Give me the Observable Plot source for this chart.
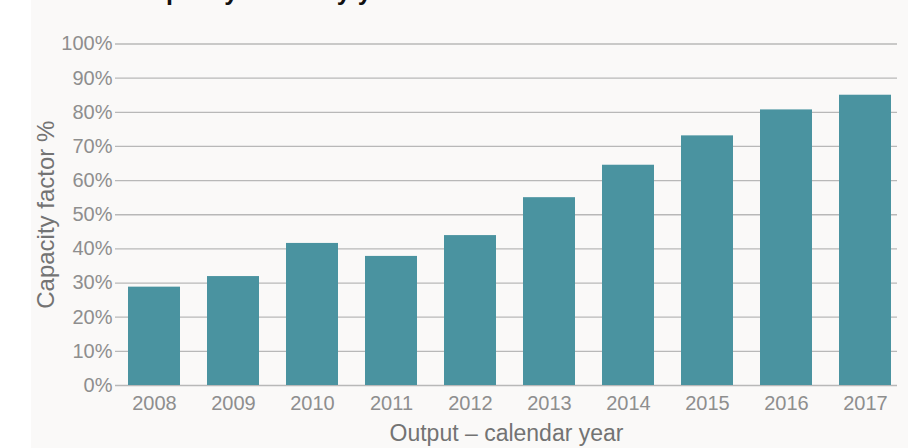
<!DOCTYPE html>
<html><head><meta charset="utf-8">
<script src="https://cdn.jsdelivr.net/npm/d3@7"></script>
<script src="https://cdn.jsdelivr.net/npm/@observablehq/plot@0.6"></script>
<style>
html,body{margin:0;padding:0;background:#fff;}
#wrap{position:relative;margin-left:31px;width:877px;height:448px;background:#faf9f8;overflow:hidden;}
#title{position:absolute;left:103px;top:-21px;font:bold 25px/24px "Liberation Sans",Arial,sans-serif;color:#111;white-space:nowrap;margin:0;}
#chart{position:absolute;left:0;top:0;}
</style>
</head><body>
<div id="wrap">
<div id="title">Capacity factor by year</div>
<div id="chart"></div>
</div>
<script>
const years = ["2008","2009","2010","2011","2012","2013","2014","2015","2016","2017"];
const capacity = [28.8, 31.9, 41.6, 37.8, 43.9, 55.0, 64.5, 73.1, 80.7, 85.0];
const yTicks = [0,10,20,30,40,50,60,70,80,90,100];
const xTitle = "Output – calendar year";
const yTitle = "Capacity factor %";

const data = years.map((y, i) => ({year: y, value: capacity[i]}));
const fmt = d => d + "%";

const chart = Plot.plot({
  width: 877, height: 448,
  marginLeft: 84, marginRight: 11, marginTop: 43.5, marginBottom: 63,
  style: {background: "transparent", fontFamily: "'Liberation Sans', Arial, sans-serif"},
  x: {domain: years, paddingInner: 0.343, paddingOuter: 0.108, align: 0.68, label: null, axis: null},
  y: {domain: [0, 100], label: null, axis: null},
  marks: [
    Plot.ruleY(yTicks, {stroke: "#b8b8b8", strokeWidth: 1.3}),
    Plot.barY(data, {x: "year", y: "value", fill: "#4a93a0"}),
    Plot.axisY({ticks: yTicks, tickFormat: fmt, tickSize: 0, tickPadding: 3, fontSize: 20, fill: "#8e8e8e", label: null}),
    Plot.axisX({tickSize: 0, tickPadding: 10, fontSize: 20, fill: "#8e8e8e", label: null}),
    Plot.text([xTitle], {text: d => d, frameAnchor: "bottom", dy: 48, fontSize: 23, fill: "#737373", lineAnchor: "middle"}),
    Plot.text([yTitle], {text: d => d, frameAnchor: "left", dx: -69, rotate: -90, textAnchor: "middle", fontSize: 24, fill: "#737373", lineAnchor: "middle"})
  ]
});
document.getElementById("chart").appendChild(chart);
</script>
</body></html>
